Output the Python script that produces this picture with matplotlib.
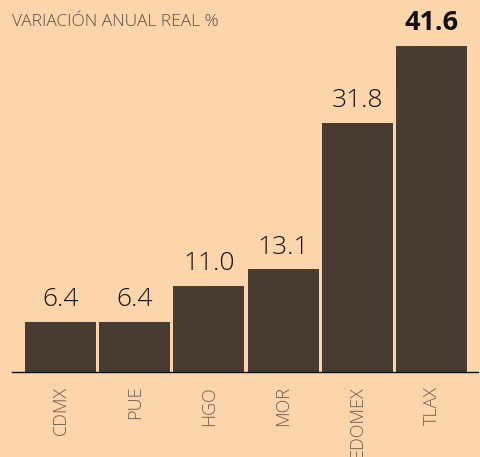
import matplotlib.pyplot as plt

states = ["CDMX", "PUE", "HGO", "MOR", "EDOMEX", "TLAX"]
values = [6.4, 6.4, 11.0, 13.1, 31.8, 41.6]
labels = ["6.4", "6.4", "11.0", "13.1", "31.8", "41.6"]

BG = "#FDD5AA"
BAR = "#463C32"

plt.rcParams["font.family"] = ["Open Sans", "DejaVu Sans"]

fig = plt.figure(figsize=(4.81, 4.57), dpi=100, facecolor=BG)
ax = fig.add_axes([12 / 481, 1 - 372 / 457, 466 / 481, 352 / 457])
ax.set_facecolor(BG)

x = list(range(len(states)))
ax.bar(x, values, width=0.955, color=BAR)

for i, (v, lab) in enumerate(zip(values, labels)):
    last = i == len(values) - 1
    ax.annotate(lab, (i, v), xytext=(0, 7), textcoords="offset points",
                ha="center", va="bottom",
                fontsize=19 if not last else 19.5,
                fontweight="bold" if last else "light",
                color="#111111")

ax.set_xlim(-0.654, 5.627)
ax.set_ylim(0, 352 / 7.84)

for s in ["top", "right", "left"]:
    ax.spines[s].set_visible(False)
ax.spines["bottom"].set_color("#111111")
ax.spines["bottom"].set_linewidth(1.0)

ax.set_yticks([])
ax.set_xticks(x)
ax.set_xticklabels(states, rotation=90, fontsize=13, color="#6a5f57",
                   fontweight="light")
ax.tick_params(axis="x", length=0, pad=10)

fig.text(12 / 481, 1 - 22 / 457, "VARIACIÓN ANUAL REAL %", fontsize=12.5,
         color="#5a5049", ha="left", va="center", fontweight="light")

fig.savefig("out.png", dpi=100, facecolor=BG)
